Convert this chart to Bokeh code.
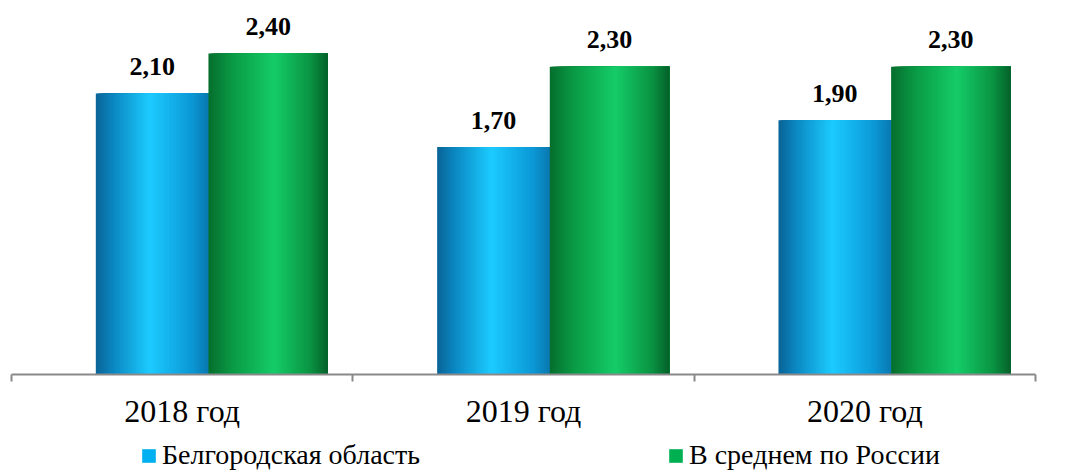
import numpy as np
from bokeh.plotting import figure
from bokeh.layouts import column
from bokeh.models import ColumnDataSource, FixedTicker, Legend, LegendItem, Range1d, CustomJSTickFormatter
from bokeh.core.properties import value
from bokeh.embed import file_html
from bokeh.resources import INLINE

# ---- data ----
categories = ["2018 год", "2019 год", "2020 год"]
belgorod = [2.10, 1.70, 1.90]
russia = [2.40, 2.30, 2.30]
series_names = ["Белгородская область", "В среднем по России"]

# ---- styles ----
LEGEND_COLORS = ["#00b0f0", "#00b050"]
GRADIENTS = [
    [(0.0, "#0a6396"), (0.15, "#0b86c0"), (0.48, "#1ccbff"), (0.85, "#0b98d6"), (1.0, "#0a78b0")],
    [(0.0, "#066e2d"), (0.2, "#0a9a45"), (0.55, "#15cc68"), (0.85, "#0a9443"), (1.0, "#05612a")],
]
BAR_LEFT = [0.247, 0.577]   # offsets inside each category
BAR_WIDTH = [0.330, 0.350]
NSTRIP = 60
SERIF = "Liberation Serif"


def hex2rgb(h):
    h = h.lstrip("#")
    return np.array([int(h[i:i + 2], 16) for i in (0, 2, 4)], dtype=float)


def grad_color(stops, t):
    for (t0, c0), (t1, c1) in zip(stops[:-1], stops[1:]):
        if t0 <= t <= t1:
            f = (t - t0) / (t1 - t0) if t1 > t0 else 0
            c = hex2rgb(c0) * (1 - f) + hex2rgb(c1) * f
            return "#%02x%02x%02x" % tuple(int(round(v)) for v in c)
    return stops[-1][1]


def fmt(v):
    return f"{v:.2f}".replace(".", ",")


p = figure(width=1084, height=435, x_range=Range1d(0, 3), y_range=Range1d(0, 374 / 133.8),
           output_backend="svg", toolbar_location=None, y_axis_location=None,
           min_border_left=11, min_border_right=49, min_border_top=0, min_border_bottom=61)
p.outline_line_color = None
p.grid.visible = False

for s, vals in enumerate([belgorod, russia]):
    lefts, rights, tops, colors = [], [], [], []
    for i, v in enumerate(vals):
        L = i + BAR_LEFT[s]
        R = L + BAR_WIDTH[s]
        w = BAR_WIDTH[s] / NSTRIP
        for k in range(NSTRIP):
            lefts.append(L + k * w)
            rights.append(R)
            tops.append(v)
            colors.append(grad_color(GRADIENTS[s], (k + 0.5) / NSTRIP))
    src = ColumnDataSource(dict(left=lefts, right=rights, top=tops, bottom=[0] * len(tops), color=colors))
    p.quad(left="left", right="right", top="top", bottom="bottom", fill_color="color",
           line_color=None, source=src)

    # value labels
    xs = [i + BAR_LEFT[s] + BAR_WIDTH[s] / 2 for i in range(len(vals))]
    lsrc = ColumnDataSource(dict(x=xs, y=vals, t=[fmt(v) for v in vals]))
    p.text(x="x", y="y", text="t", source=lsrc, text_align="center", text_baseline="alphabetic",
           y_offset=-27, text_font=value(SERIF), text_font_style="bold", text_font_size="26px",
           text_color="black")

ax = p.xaxis[0]
ax.ticker = FixedTicker(ticks=[0.5, 1.5, 2.5], minor_ticks=[0, 1, 2, 3])
ax.formatter = CustomJSTickFormatter(args=dict(cats=categories), code="return cats[Math.floor(tick)];")
ax.axis_line_color = "#898989"
ax.axis_line_width = 2
ax.major_tick_line_color = None
ax.major_tick_out = 0
ax.major_tick_in = 0
ax.minor_tick_line_color = "#898989"
ax.minor_tick_line_width = 2
ax.minor_tick_in = 0
ax.minor_tick_out = 7
ax.major_label_text_font = SERIF
ax.major_label_text_font_size = "32px"
ax.major_label_text_color = "black"
ax.major_label_standoff = 11

# ---- legend strip ----
leg = figure(width=1084, height=36, x_range=Range1d(0, 1), y_range=Range1d(0, 1),
             output_backend="svg", toolbar_location=None, x_axis_location=None, y_axis_location=None,
             min_border=0)
leg.outline_line_color = None
leg.grid.visible = False
LEG_X = [129, 656]
for s in range(2):
    # legend proxy glyph, placed outside the visible range
    r = leg.quad(left=[5], right=[6], top=[5], bottom=[4], fill_color=LEGEND_COLORS[s], line_color=None)
    lg = Legend(items=[LegendItem(label=series_names[s], renderers=[r])], location=(LEG_X[s], 0),
                label_text_font=SERIF, label_text_font_size="28px", label_text_color="black",
                glyph_width=17, glyph_height=17, label_standoff=5,
                padding=0, margin=0, border_line_color=None, background_fill_alpha=0)
    leg.add_layout(lg, "center")

layout = column(p, leg, spacing=0)
open("out.html", "w").write(file_html(layout, INLINE))
